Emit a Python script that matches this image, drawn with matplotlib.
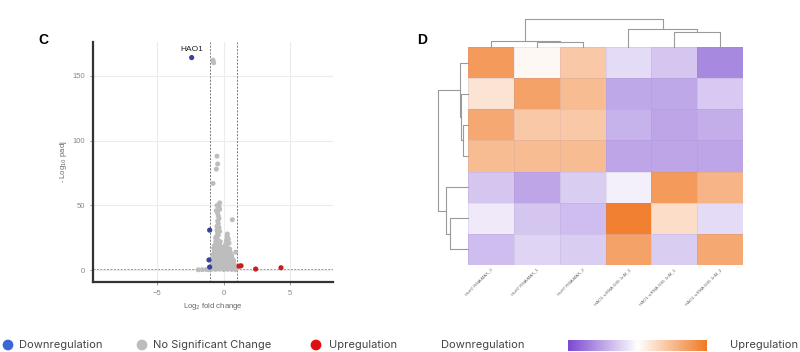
import numpy as np
import matplotlib
import matplotlib.pyplot as plt
from matplotlib.colors import LinearSegmentedColormap

matplotlib.use('Agg')

# volcano plot data (log2 fold change, -log10 padj)
gray_x = [-1.9, -1.6, -1.3, -1.1, -0.9, -0.6, -0.3, 0.0, 0.3, 0.6, 0.9,
          -0.9, -0.7, -0.5, -0.3, -0.1, 0.1, 0.3, 0.5, 0.7, 0.85,
          -0.8, -0.6, -0.4, -0.2, 0.0, 0.2, 0.4, 0.6, 0.8,
          -0.85, -0.65, -0.45, -0.25, -0.05, 0.15, 0.35, 0.55, 0.75,
          -0.75, -0.55, -0.35, -0.15, 0.05, 0.25, 0.45, 0.65,
          -0.8, -0.6, -0.4, -0.2, 0.0, 0.2, 0.4, 0.6,
          -0.7, -0.5, -0.3, -0.1, 0.1, 0.3, 0.5,
          -0.75, -0.55, -0.35, -0.15, 0.05, 0.25, 0.45,
          -0.7, -0.5, -0.3, -0.6, -0.4, -0.25, -0.55, -0.4, -0.3, -0.5,
          -0.6, -0.45, -0.35, -0.5, -0.4, -0.45, -0.35, -0.4, -0.45, -0.3,
          -0.55, -0.35, -0.5, -0.3,
          0.15, 0.3, 0.2, 0.35, 0.25, 0.1, 0.05, 0.4, 0.3,
          0.65, 0.28, 0.9, -0.5, -0.45, -0.55, -0.8, -0.8, -0.75]
gray_y = [0.4, 0.5, 0.6, 0.5, 0.8, 0.7, 0.9, 0.6, 0.8, 0.7, 0.5,
          2, 2.5, 2, 2.5, 2, 2.5, 2, 2.5, 2, 2.5,
          4.5, 4, 4.5, 4, 4.5, 4, 4.5, 4, 4.5,
          7, 7.5, 7, 7.5, 7, 7.5, 7, 7, 7.5,
          9.5, 10, 9.5, 10, 9.5, 10, 9.5, 9,
          12, 12.5, 12, 12.5, 12, 12.5, 12, 11.5,
          14.5, 15, 14.5, 15, 14.5, 15, 14,
          17, 17.5, 17, 17.5, 17, 17.5, 16.5,
          19, 20, 19.5, 22, 23, 22, 26, 27, 30, 31,
          25, 29, 33, 34, 36, 38, 40, 42, 44, 47,
          46, 49, 50, 52,
          20, 21, 23, 24, 26, 19, 18, 21, 25,
          39, 28, 14, 88, 82, 78, 67, 162, 160]
down_x = [-2.4, -1.05, -1.1, -1.05]
down_y = [164, 31, 8, 2.5]
up_x = [1.15, 1.3, 2.4, 4.3]
up_y = [3.2, 3.5, 1.0, 2.0]

# heatmap data
col_labels = ['HuH7 RNAiMAX_3', 'HuH7 RNAiMAX_1', 'HuH7 RNAiMAX_2',
              'HAO1 siRNA GS5 1nM_3', 'HAO1 siRNA GS5 1nM_1', 'HAO1 siRNA GS5 1nM_2']
heat = np.array([
    [0.75, 0.05, 0.40, -0.20, -0.32, -0.65],
    [0.20, 0.70, 0.50, -0.48, -0.48, -0.30],
    [0.65, 0.40, 0.40, -0.42, -0.50, -0.45],
    [0.50, 0.50, 0.50, -0.50, -0.50, -0.50],
    [-0.32, -0.50, -0.28, -0.08, 0.75, 0.55],
    [-0.12, -0.32, -0.36, 0.95, 0.25, -0.20],
    [-0.36, -0.24, -0.28, 0.70, -0.28, 0.65],
])
# dendrogram merges: (left node, right node, height)
col_merges = [(1, 2, 4.7), (0, 6, 6.3), (4, 5, 14.7), (3, 8, 17.7), (7, 9, 27.7)]
row_merges = [(2, 3, 5.0), (1, 7, 6.6), (0, 8, 8.3), (5, 6, 17.6), (4, 10, 22.3), (9, 11, 30.0)]

cmap = LinearSegmentedColormap.from_list('pwo', ['#7a4bd0', '#ffffff', '#f07a26'])


def draw_dendro(ax, merges, n, orient):
    pos = {i: i + 0.5 for i in range(n)}
    hgt = {i: 0.0 for i in range(n)}
    for k, (a, b, h) in enumerate(merges):
        xs = [pos[a], pos[a], pos[b], pos[b]]
        ys = [hgt[a], h, h, hgt[b]]
        if orient == 'top':
            ax.plot(xs, ys, color='#9a9a9a', lw=0.8, clip_on=False)
        else:
            ax.plot(ys, xs, color='#9a9a9a', lw=0.8, clip_on=False)
        pos[n + k] = (pos[a] + pos[b]) / 2
        hgt[n + k] = h
    ax.axis('off')


fig = plt.figure(figsize=(8, 3.52), dpi=100)
plt.rcParams['font.family'] = ['Liberation Sans', 'DejaVu Sans']

# C: volcano plot
ax = fig.add_axes([93 / 800, 1 - 282 / 352, 240 / 800, 240 / 352])
ax.set_xlim(-9.8, 8.2)
ax.set_ylim(-9, 176)
ax.grid(True, color='#ececec', lw=0.8)
ax.set_axisbelow(True)
ax.axvline(-1, color='#777777', ls=(0, (2, 1.5)), lw=0.7)
ax.axvline(1, color='#777777', ls=(0, (2, 1.5)), lw=0.7)
ax.axhline(1.3, color='#999999', ls=(0, (2, 1.5)), lw=0.7)
ax.scatter(gray_x, gray_y, s=13, color='#bdbdbd', edgecolors='none', zorder=3)
ax.scatter(down_x, down_y, s=14, color='#33449a', edgecolors='none', zorder=4)
ax.scatter(up_x, up_y, s=14, color='#c42020', edgecolors='none', zorder=4)
ax.annotate('HAO1', (down_x[0], down_y[0]), xytext=(0, 3), textcoords='offset points',
            ha='center', va='bottom', fontsize=6, color='#222222')
ax.set_xticks([-5, 0, 5])
ax.set_yticks([0, 50, 100, 150])
ax.tick_params(labelsize=5.5, colors='#888888', length=2, width=0.6)
for s in ['top', 'right']:
    ax.spines[s].set_visible(False)
for s in ['left', 'bottom']:
    ax.spines[s].set_color('#333333')
    ax.spines[s].set_linewidth(1.6)
ax.set_xlabel(r'Log$_2$ fold change', fontsize=5.5, color='#666666', labelpad=3)
ax.set_ylabel(r'- Log$_{10}$ padj', fontsize=5.5, color='#666666', labelpad=3)
fig.text(43 / 800, 1 - 40 / 352, 'C', fontsize=10, fontweight='bold', ha='center', va='center')

# D: clustered heatmap
hx0, hx1, hy0, hy1 = 468 / 800, 743 / 800, 1 - 265 / 352, 1 - 47 / 352
axh = fig.add_axes([hx0, hy0, hx1 - hx0, hy1 - hy0])
axh.pcolormesh(heat, cmap=cmap, vmin=-1, vmax=1, edgecolors=(0.6, 0.5, 0.7, 0.15), linewidth=0.4)
axh.set_xlim(0, heat.shape[1])
axh.set_ylim(heat.shape[0], 0)
axh.set_xticks(np.arange(heat.shape[1]) + 0.5)
axh.set_xticklabels(col_labels, rotation=45, ha='right', rotation_mode='anchor',
                    fontsize=3.2, color='#666666')
axh.set_yticks([])
axh.tick_params(length=0, pad=2)
for s in axh.spines.values():
    s.set_visible(False)

axc = fig.add_axes([hx0, hy1, hx1 - hx0, 28 / 352])
axc.set_xlim(0, heat.shape[1])
axc.set_ylim(0, 28)
draw_dendro(axc, col_merges, heat.shape[1], 'top')

axr = fig.add_axes([hx0 - 30 / 800, hy0, 30 / 800, hy1 - hy0])
axr.set_ylim(heat.shape[0], 0)
axr.set_xlim(30, 0)
draw_dendro(axr, row_merges, heat.shape[0], 'left')
fig.text(422 / 800, 1 - 40 / 352, 'D', fontsize=10, fontweight='bold', ha='center', va='center')

# bottom legend
axl = fig.add_axes([0, 0, 1, 1], facecolor='none')
axl.set_xlim(0, 800)
axl.set_ylim(352, 0)
axl.axis('off')
leg_font = ['Inter', 'DejaVu Sans']
axl.scatter([8, 142, 316], [345, 345, 345], s=60, color=['#3b66d6', '#bdbdbd', '#e01010'],
            edgecolors='none')
axl.text(19, 345, 'Downregulation', fontsize=8, va='center', family=leg_font, color='#444444')
axl.text(153, 345, 'No Significant Change', fontsize=8, va='center', family=leg_font, color='#444444')
axl.text(329, 345, 'Upregulation', fontsize=8, va='center', family=leg_font, color='#444444')
axl.text(441, 345, 'Downregulation', fontsize=8, va='center', family=leg_font, color='#444444')
axl.text(730, 345, 'Upregulation', fontsize=8, va='center', family=leg_font, color='#444444')

axb = fig.add_axes([568 / 800, 1 - 351 / 352, 139 / 800, 11 / 352])
axb.imshow(np.linspace(-1, 1, 256)[None, :], aspect='auto', cmap=cmap, vmin=-1, vmax=1)
axb.axis('off')

fig.savefig('out.png', dpi=100)
